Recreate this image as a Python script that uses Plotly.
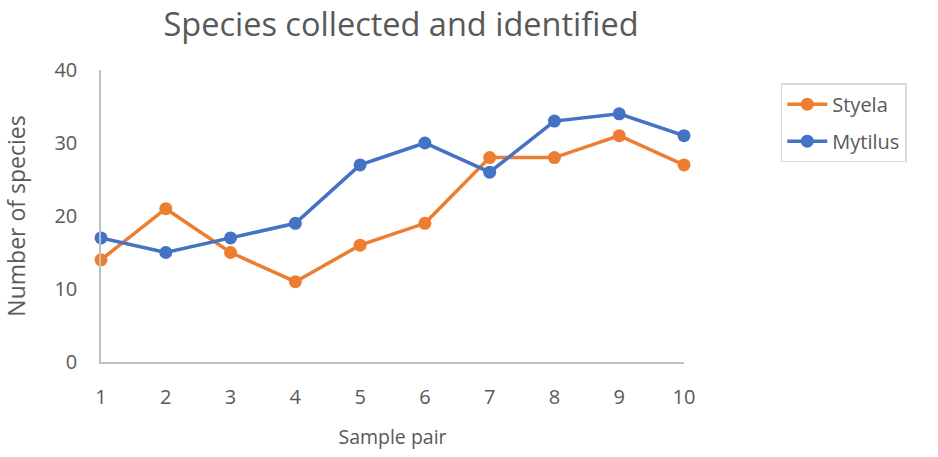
import plotly.graph_objects as go

sample_pair = [1, 2, 3, 4, 5, 6, 7, 8, 9, 10]
styela = [14, 21, 15, 11, 16, 19, 28, 28, 31, 27]
mytilus = [17, 15, 17, 19, 27, 30, 26, 33, 34, 31]

font_family = "Open Sans, Liberation Sans, sans-serif"
text_color = "#595959"

fig = go.Figure()
fig.add_trace(go.Scatter(x=sample_pair, y=styela, name="Styela", mode="lines+markers",
                         legendgroup="a",
                         line=dict(color="#ED7D31", width=3.5),
                         marker=dict(color="#ED7D31", size=13), cliponaxis=False))
fig.add_trace(go.Scatter(x=sample_pair, y=mytilus, name="Mytilus", mode="lines+markers",
                         legendgroup="b",
                         line=dict(color="#4472C4", width=3.5),
                         marker=dict(color="#4472C4", size=13), cliponaxis=False))

fig.update_layout(
    width=938, height=457,
    paper_bgcolor="white", plot_bgcolor="white",
    margin=dict(l=101, r=254, t=70, b=95),
    font=dict(family=font_family, color=text_color, size=20),
    title=dict(text="Species collected and identified", x=0.4275, xanchor="center",
               y=0.9715, yanchor="top", font=dict(size=32.5, color=text_color)),
    legend=dict(x=1.166, y=0.955, xanchor="left", yanchor="top",
                bordercolor="#D9D9D9", borderwidth=1.5, font=dict(size=20),
                itemwidth=40, traceorder="grouped", tracegroupgap=8),
    showlegend=True,
)
fig.update_xaxes(range=[1, 10], tickmode="array", tickvals=sample_pair, automargin=False,
                 showgrid=False, zeroline=False, showline=True, linecolor="#BFBFBF",
                 linewidth=1.5, ticks="outside", ticklen=16, tickcolor="rgba(0,0,0,0)",
                 title=dict(text="Sample pair", font=dict(size=19.5), standoff=22))
fig.update_yaxes(range=[0, 40], tickvals=[0, 10, 20, 30, 40], automargin=False,
                 showgrid=False, zeroline=False, showline=True, linecolor="#BFBFBF",
                 linewidth=1.5, ticks="outside", ticklen=18, tickcolor="rgba(0,0,0,0)",
                 title=dict(text="Number of species", font=dict(size=23), standoff=22))

fig.write_html("out.html", config={"displayModeBar": False},
               post_script="document.body.style.margin='0';document.body.style.overflow='hidden';")
